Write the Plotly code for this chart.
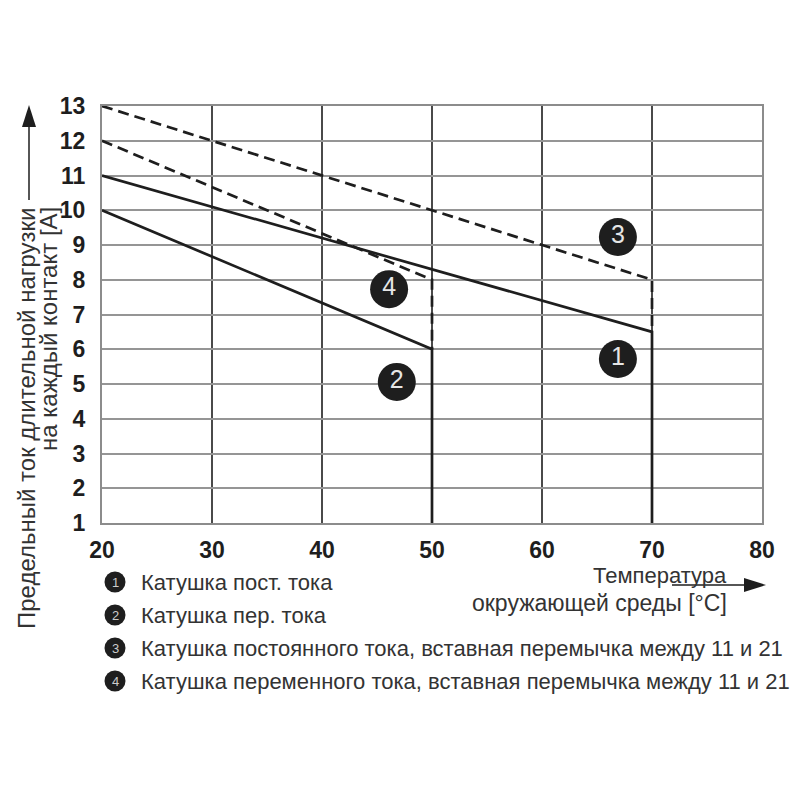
import plotly.graph_objects as go

# curve data: temperature [°C] vs current [A]
x_dc = [20, 70, 70]
y_dc = [11, 6.5, 1]
x_ac = [20, 50, 50]
y_ac = [10, 6, 1]
x_dc_bridge = [20, 70, 70]
y_dc_bridge = [13, 8, 6.5]
x_ac_bridge = [20, 50, 50]
y_ac_bridge = [12, 8, 6]

# numbered labels on the curves
label_num = ["1", "2", "3", "4"]
label_x = [66.9, 46.8, 66.9, 46.1]
label_y = [5.72, 5.06, 9.23, 7.73]

legend_texts = [
    "Катушка пост. тока",
    "Катушка пер. тока",
    "Катушка постоянного тока, вставная перемычка между 11 и 21",
    "Катушка переменного тока, вставная перемычка между 11 и 21",
]

x_ticks = [20, 30, 40, 50, 60, 70, 80]
y_ticks = list(range(1, 14))

FONT = "Liberation Sans"
INK = "#1e1e1e"
TXT = "#333333"

# page has an 8px body margin; positions below are measured on the page
OFF = 8
L, R, T, B = 102 - OFF, 762 - OFF, 106 - OFF, 523 - OFF


def px(x):
    return (x - OFF - L) / (R - L)


def py(y):
    return (B - (y - OFF)) / (B - T)


fig = go.Figure()

solid = dict(color=INK, width=2.7)
dashed = dict(color=INK, width=2.7, dash="11px,6px")
fig.add_trace(go.Scatter(x=x_dc, y=y_dc, mode="lines", line=solid))
fig.add_trace(go.Scatter(x=x_ac, y=y_ac, mode="lines", line=solid))
fig.add_trace(go.Scatter(x=x_dc_bridge, y=y_dc_bridge, mode="lines", line=dashed))
fig.add_trace(go.Scatter(x=x_ac_bridge, y=y_ac_bridge, mode="lines", line=dashed))

fig.add_trace(go.Scatter(
    x=label_x, y=label_y, mode="markers+text", text=label_num,
    textposition="middle center",
    marker=dict(size=38, color=INK),
    textfont=dict(family=FONT, size=25, color="#e6e6e6"),
))

fig.update_xaxes(
    range=[20, 80], tickvals=x_ticks, showgrid=True, gridcolor="#4a4a4a", gridwidth=1.5,
    showline=True, mirror=True, linecolor="#8c8c8c", linewidth=2, zeroline=False,
    ticks="", ticklabelstandoff=5,
    tickfont=dict(family=FONT, size=23, color=INK, weight="bold"),
)
fig.update_yaxes(
    range=[1, 13], tickvals=y_ticks, showgrid=True, gridcolor="#959595", gridwidth=2,
    showline=True, mirror=True, linecolor="#8c8c8c", linewidth=2, zeroline=False,
    ticks="", ticklabelstandoff=10,
    tickfont=dict(family=FONT, size=23, color=INK, weight="bold"),
)

annotations = []
shapes = []

# y axis title, two rotated lines, top-aligned
annotations.append(dict(
    text="Предельный ток длительной нагрузки", textangle=-90,
    xref="paper", yref="paper", x=px(26), y=py(205), xanchor="center", yanchor="top",
    showarrow=False, font=dict(family=FONT, size=24, color=TXT),
))
annotations.append(dict(
    text="на каждый контакт [A]", textangle=-90,
    xref="paper", yref="paper", x=px(48), y=py(205), xanchor="center", yanchor="top",
    showarrow=False, font=dict(family=FONT, size=24, color=TXT),
))

# x axis title
annotations.append(dict(
    text="Температура", xref="paper", yref="paper", x=px(728), y=py(575),
    xanchor="right", yanchor="middle", showarrow=False, borderpad=0,
    font=dict(family=FONT, size=22, color=TXT),
))
annotations.append(dict(
    text="окружающей среды [°C]", xref="paper", yref="paper", x=px(728), y=py(603),
    xanchor="right", yanchor="middle", showarrow=False, borderpad=0,
    font=dict(family=FONT, size=23, color=TXT),
))


def arrow(x0, y0, x1, y1, head=22, half=7):
    # shaft plus filled triangular head, page pixel coordinates
    if x0 == x1:
        s = 1 if y1 > y0 else -1
        base = y1 - s * head
        shapes.append(dict(type="line", xref="paper", yref="paper",
                           x0=px(x0), y0=py(y0), x1=px(x1), y1=py(base),
                           line=dict(color=INK, width=1.5)))
        tri = [(x1 - half, base), (x1 + half, base), (x1, y1)]
    else:
        s = 1 if x1 > x0 else -1
        base = x1 - s * head
        shapes.append(dict(type="line", xref="paper", yref="paper",
                           x0=px(x0), y0=py(y0), x1=px(base), y1=py(y1),
                           line=dict(color=INK, width=1.5)))
        tri = [(base, y1 - half), (base, y1 + half), (x1, y1)]
    path = "M " + " L ".join(f"{px(a)},{py(b)}" for a, b in tri) + " Z"
    shapes.append(dict(type="path", xref="paper", yref="paper", path=path,
                       fillcolor=INK, line=dict(width=0)))


arrow(29, 200, 29, 105)
arrow(672, 585, 766, 585)

# legend rows below the chart
row_y = [582, 615, 648, 681]
for num, txt, ry in zip(label_num, legend_texts, row_y):
    shapes.append(dict(
        type="circle", xref="paper", yref="paper", xsizemode="pixel", ysizemode="pixel",
        xanchor=px(115), yanchor=py(ry), x0=-10.5, x1=10.5, y0=-10.5, y1=10.5,
        fillcolor=INK, line=dict(width=0),
    ))
    annotations.append(dict(
        text=num, xref="paper", yref="paper", x=px(115), y=py(ry),
        xanchor="center", yanchor="middle", showarrow=False,
        font=dict(family=FONT, size=13, color="#cccccc"),
    ))
    annotations.append(dict(
        text=txt, xref="paper", yref="paper", x=px(139), y=py(ry),
        xanchor="left", yanchor="middle", showarrow=False,
        font=dict(family=FONT, size=22, color=TXT),
    ))

fig.update_layout(
    width=800, height=800,
    margin=dict(l=L, r=800 - R, t=T, b=800 - B),
    plot_bgcolor="white", paper_bgcolor="white",
    showlegend=False,
    annotations=annotations, shapes=shapes,
)

fig.write_html("out.html")
